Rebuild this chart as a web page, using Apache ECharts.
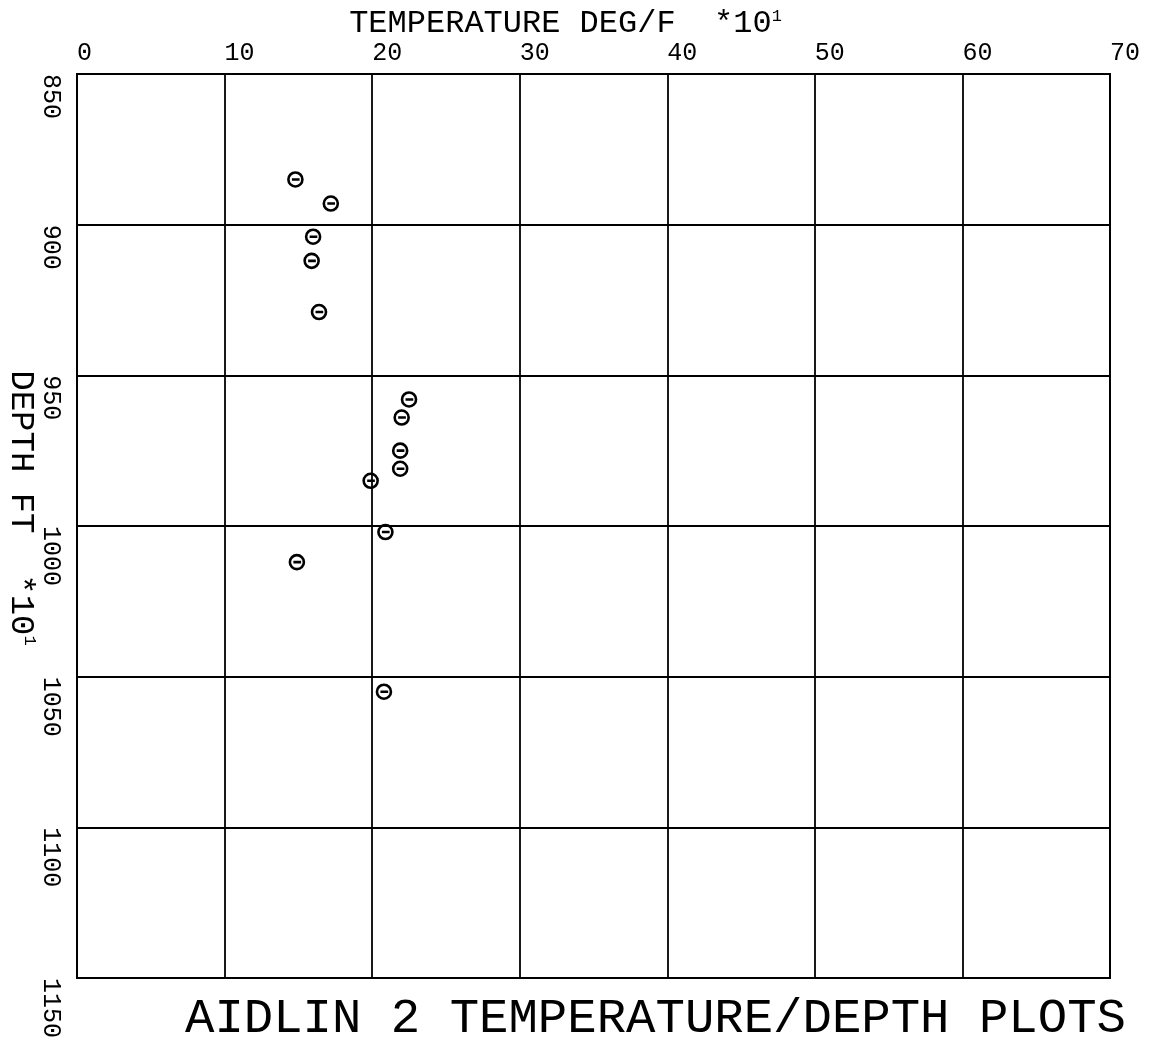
<!DOCTYPE html>
<html>
<head>
<meta charset="utf-8">
<script src="https://cdn.jsdelivr.net/npm/echarts@6/dist/echarts.min.js"></script>
<style>
html,body{margin:0;padding:0;background:#fff;}
#chart{width:1155px;height:1041px;}
</style>
</head>
<body>
<div id="chart"></div>
<script>
// Temperature (deg F x10) and depth (ft x10)
const temperature = [14.8, 17.2, 16.0, 15.9, 16.4, 22.5, 22.0, 21.9, 21.9, 19.9, 20.9, 14.9, 20.8];
const depth       = [885, 893, 904, 912, 929, 958, 964, 975, 981, 985, 1002, 1012, 1055];
const xTicks = [0, 10, 20, 30, 40, 50, 60, 70];
const yTicks = [850, 900, 950, 1000, 1050, 1100, 1150];
const xTitle = 'TEMPERATURE DEG/F  *10';
const yTitle = 'DEPTH FT  *10';
const chartTitle = 'AIDLIN 2 TEMPERATURE/DEPTH PLOTS';

const FONT = 'Liberation Mono';
const points = temperature.map((t, i) => [t, depth[i]]);

const chart = echarts.init(document.getElementById('chart'), null, {renderer: 'canvas'});
chart.setOption({
  backgroundColor: '#fff',
  animation: false,
  title: {
    text: chartTitle,
    left: 180,
    top: 990,
    textStyle: {fontFamily: FONT, fontSize: 49, fontWeight: 'normal', color: '#000'}
  },
  grid: {
    left: 77, right: 45, top: 74, bottom: 63,
    containLabel: false,
    outerBoundsMode: 'none',
    show: true, borderColor: '#000', borderWidth: 2, backgroundColor: 'transparent'
  },
  xAxis: {
    type: 'value',
    position: 'top',
    min: xTicks[0],
    max: xTicks[xTicks.length - 1],
    interval: xTicks[1] - xTicks[0],
    name: xTitle + '{s|1}',
    nameLocation: 'middle',
    nameGap: 50,
    nameMoveOverlap: false,
    nameTextStyle: {
      fontFamily: FONT, fontSize: 32, color: '#000', verticalAlign: 'middle',
      padding: [0, 56, 0, 0],
      rich: {s: {fontFamily: FONT, fontSize: 17, color: '#000', verticalAlign: 'top', padding: [0, 0, 14, 0]}}
    },
    axisLine: {show: true, lineStyle: {color: '#000', width: 2}},
    axisTick: {show: false},
    axisLabel: {
      fontFamily: FONT, fontSize: 25, color: '#000',
      align: 'left', verticalAlign: 'bottom', margin: 8,
      showMinLabel: true, showMaxLabel: true,
      formatter: v => String(v)
    },
    splitLine: {show: true, lineStyle: {color: '#000', width: 1.8}}
  },
  yAxis: {
    type: 'value',
    inverse: true,
    min: yTicks[0],
    max: yTicks[yTicks.length - 1],
    interval: yTicks[1] - yTicks[0],
    name: yTitle + '{s|1}',
    nameLocation: 'middle',
    nameRotate: -90,
    nameGap: 56,
    nameMoveOverlap: false,
    nameTextStyle: {
      fontFamily: FONT, fontSize: 34, color: '#000', verticalAlign: 'middle',
      padding: [0, 36, 0, 0],
      rich: {s: {fontFamily: FONT, fontSize: 17, color: '#000', verticalAlign: 'top', padding: [0, 0, 14, 0]}}
    },
    axisLine: {show: true, lineStyle: {color: '#000', width: 2}},
    axisTick: {show: false},
    axisLabel: {
      fontFamily: FONT, fontSize: 25, color: '#000',
      rotate: -90, align: 'left', verticalAlign: 'middle', margin: 26,
      showMinLabel: true, showMaxLabel: true,
      formatter: v => String(v)
    },
    splitLine: {show: true, lineStyle: {color: '#000', width: 1.8}}
  },
  series: [{
    type: 'scatter',
    data: points,
    symbol: 'path://M10,0 A10,10 0 1,1 -10,0 A10,10 0 1,1 10,0 Z M-5,0 L6,0',
    symbolSize: 14,
    itemStyle: {color: 'rgba(0,0,0,0)', borderColor: '#000', borderWidth: 2.6, opacity: 1}
  }]
});
</script>
</body>
</html>
